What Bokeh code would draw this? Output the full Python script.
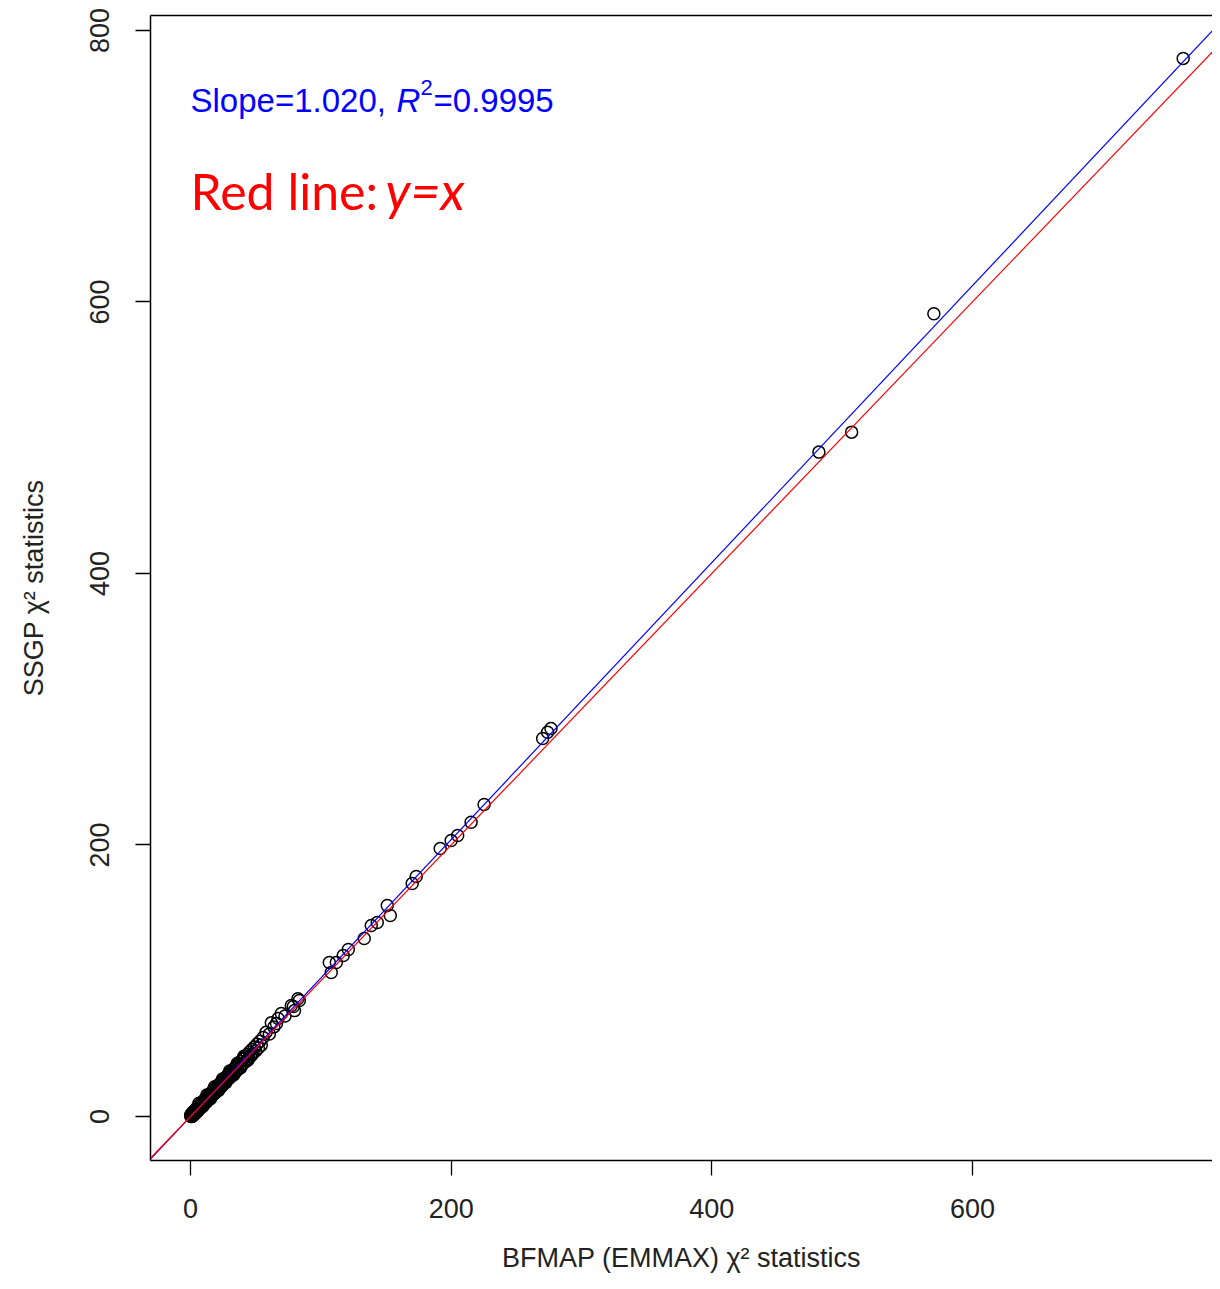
from bokeh.plotting import figure
from bokeh.models import Slope, LinearAxis, FixedTicker, Range1d, ColumnDataSource
from bokeh.core.properties import value
from bokeh.embed import file_html
from bokeh.resources import INLINE

# ---- data ----
bfmap_chi2 = [761.7, 570.4, 507.3, 482.2, 276.6, 274.0, 270.2, 225.3, 215.3, 205.0,
              200.0, 191.6, 173.2, 170.1, 151.0, 153.3, 143.3, 138.7, 133.3, 121.1,
              117.2, 111.9, 106.5, 108.0, 83.5, 78.9, 79.8, 82.4, 77.4, 72.5,
              69.7, 67.2, 66.0, 64.0, 62.0, 60.5, 58.0, 55.7, 54.3, 53.2,
              52.1, 51.0, 50.0, 49.0, 48.0, 47.1, 46.2, 45.3, 44.4, 43.5,
              42.7, 41.8, 41.0, 40.2, 39.4, 38.6, 37.8, 37.0, 36.3, 35.5,
              34.8, 34.0, 33.3, 32.6, 31.9, 31.2, 30.5, 29.8, 29.1, 28.5,
              27.8, 27.2, 26.5, 25.9, 25.2, 24.6, 24.0, 23.4, 22.8, 22.2,
              21.6, 21.0, 20.4, 19.8, 19.3, 18.7, 18.2, 17.7, 17.1, 16.6,
              16.1, 15.6, 15.1, 14.6, 14.1, 13.6, 13.1, 12.7, 12.2, 11.7,
              11.2, 10.8, 10.3, 9.9, 9.4, 9.0, 8.5, 8.1, 7.7, 7.2,
              6.8, 6.4, 6.0, 5.6, 5.2, 4.9, 4.5, 4.1, 3.8, 3.4,
              3.1, 2.8, 2.5, 2.2, 1.9, 1.6, 1.3, 1.0, 0.8, 0.5, 0.3, 0.1,
              44.0, 41.0, 38.5, 36.0, 33.0, 30.0, 27.0, 24.5, 21.5, 18.5,
              15.5, 12.5, 9.5, 6.5, 46.8, 40.5, 35.0, 29.5, 23.5, 17.5]
ssgp_chi2 = [779.4, 591.3, 504.1, 489.4, 285.8, 283.0, 278.4, 229.8, 216.8, 207.0,
             203.3, 197.4, 176.8, 171.6, 155.4, 148.1, 142.9, 140.7, 131.1, 123.0,
             118.6, 113.4, 113.4, 106.1, 85.5, 81.0, 78.0, 86.7, 81.8, 74.0,
             75.9, 72.2, 68.5, 66.0, 69.0, 60.8, 62.0, 58.2, 52.6, 55.5,
             50.5, 53.3, 48.3, 51.2, 46.5, 49.3, 44.4, 47.5, 42.9, 45.6,
             41.0, 44.0, 39.4, 42.3, 37.8, 40.6, 36.2, 39.0, 34.7, 37.4,
             33.2, 35.9, 31.7, 34.4, 30.5, 33.0, 28.9, 31.6, 27.6, 30.3,
             26.3, 28.9, 25.0, 27.6, 23.7, 26.3, 22.5, 25.1, 21.3, 23.9,
             20.0, 22.6, 19.0, 21.5, 17.9, 20.3, 16.6, 19.3, 15.8, 18.2,
             14.5, 17.2, 13.7, 16.1, 12.6, 15.2, 11.8, 14.1, 10.6, 13.2,
             9.9, 12.3, 8.8, 11.4, 8.0, 10.4, 7.0, 9.5, 6.2, 8.6,
             5.5, 7.8, 4.5, 7.1, 3.8, 6.3, 3.2, 5.5, 2.5, 4.6,
             1.8, 4.1, 1.2, 3.5, 0.7, 2.9, 0.1, 2.2, 0.0, 1.6, 0.1, 0.8,
             41.5, 44.3, 36.0, 39.2, 30.6, 33.5, 24.8, 27.6, 19.2, 21.9,
             13.2, 15.8, 7.6, 9.8, 45.5, 42.8, 33.4, 31.7, 21.8, 19.6]

fit_slope = 1.020
fit_intercept = 0.0
x_ticks = [0, 200, 400, 600]
y_ticks = [0, 200, 400, 600, 800]

slope_text = ["Slope=1.020, ", "R", "2", "=0.9995"]
red_text = ["Red line: ", "y=x"]
x_title = "BFMAP (EMMAX) χ² statistics"
y_title = "SSGP χ² statistics"

# ---- figure ----
p = figure(width=1212, height=1281, output_backend="svg", toolbar_location=None,
           x_range=Range1d(-30.7, 784.2), y_range=Range1d(-32.4, 811.0),
           min_border_left=150, min_border_right=0, min_border_top=15, min_border_bottom=121)
p.outline_line_color = None
p.grid.visible = False
p.background_fill_color = "white"

TXT = "#222222"
for ax in (p.xaxis[0], p.yaxis[0]):
    ax.axis_line_color = "black"
    ax.axis_line_width = 1.5
    ax.major_tick_line_color = "black"
    ax.major_tick_line_width = 1.3
    ax.major_tick_out = 15
    ax.major_tick_in = 0
    ax.minor_tick_line_color = None
    ax.major_label_text_font = "Liberation Sans"
    ax.major_label_text_font_size = "27px"
    ax.major_label_text_color = TXT
    ax.axis_label_text_font = "Liberation Sans"
    ax.axis_label_text_font_size = "27px"
    ax.axis_label_text_font_style = "normal"
    ax.axis_label_text_color = TXT

p.xaxis.ticker = FixedTicker(ticks=x_ticks)
p.yaxis.ticker = FixedTicker(ticks=y_ticks)
p.yaxis.major_label_orientation = "vertical"
p.xaxis.major_label_standoff = 23
p.yaxis.major_label_standoff = 26
p.xaxis.axis_label = x_title
p.xaxis.axis_label_standoff = 22
p.yaxis.axis_label = y_title
p.yaxis.axis_label_standoff = 39

top = LinearAxis(ticker=FixedTicker(ticks=[]), major_tick_out=0, major_tick_in=0,
                 minor_tick_out=0, minor_tick_in=0, major_label_text_font_size="0px",
                 axis_line_color="black", axis_line_width=1.5)
p.add_layout(top, "above")

src = ColumnDataSource(data=dict(x=bfmap_chi2, y=ssgp_chi2))
p.scatter("x", "y", source=src, marker="circle", size=12, fill_color=None,
          line_color="black", line_width=1.5)

p.add_layout(Slope(gradient=fit_slope, y_intercept=fit_intercept, line_color="#0000FF", line_width=1.2))
p.add_layout(Slope(gradient=1.0, y_intercept=0.0, line_color="#FF0000", line_width=1.2))

# annotation texts
bx, by = 0.0, 738.6
SL = "#0000FF"
p.text(x=[bx], y=[by], text=[slope_text[0]], text_font=value("Liberation Sans"),
       text_font_size="33px", text_color=SL, text_baseline="alphabetic", y_offset=-13)
p.text(x=[bx], y=[by], text=[slope_text[1]], text_font=value("Liberation Sans"),
       text_font_size="33px", text_font_style="italic", text_color=SL,
       text_baseline="alphabetic", x_offset=206, y_offset=-13)
p.text(x=[bx], y=[by], text=[slope_text[2]], text_font=value("Liberation Sans"),
       text_font_size="22px", text_color=SL, text_baseline="alphabetic",
       x_offset=230, y_offset=-26)
p.text(x=[bx], y=[by], text=[slope_text[3]], text_font=value("Liberation Sans"),
       text_font_size="33px", text_color=SL, text_baseline="alphabetic",
       x_offset=243, y_offset=-13)

rx, ry = 0.0, 667.4
p.text(x=[rx], y=[ry], text=[red_text[0]], text_font=value("Lato"),
       text_font_size="50px", text_color="#FF0000", text_baseline="alphabetic", y_offset=-19)
p.text(x=[rx], y=[ry], text=[red_text[1]], text_font=value("Lato"),
       text_font_size="52px", text_font_style="italic", text_color="#FF0000",
       text_baseline="alphabetic", x_offset=195, y_offset=-20)

open("out.html", "w").write(file_html(p, INLINE))
